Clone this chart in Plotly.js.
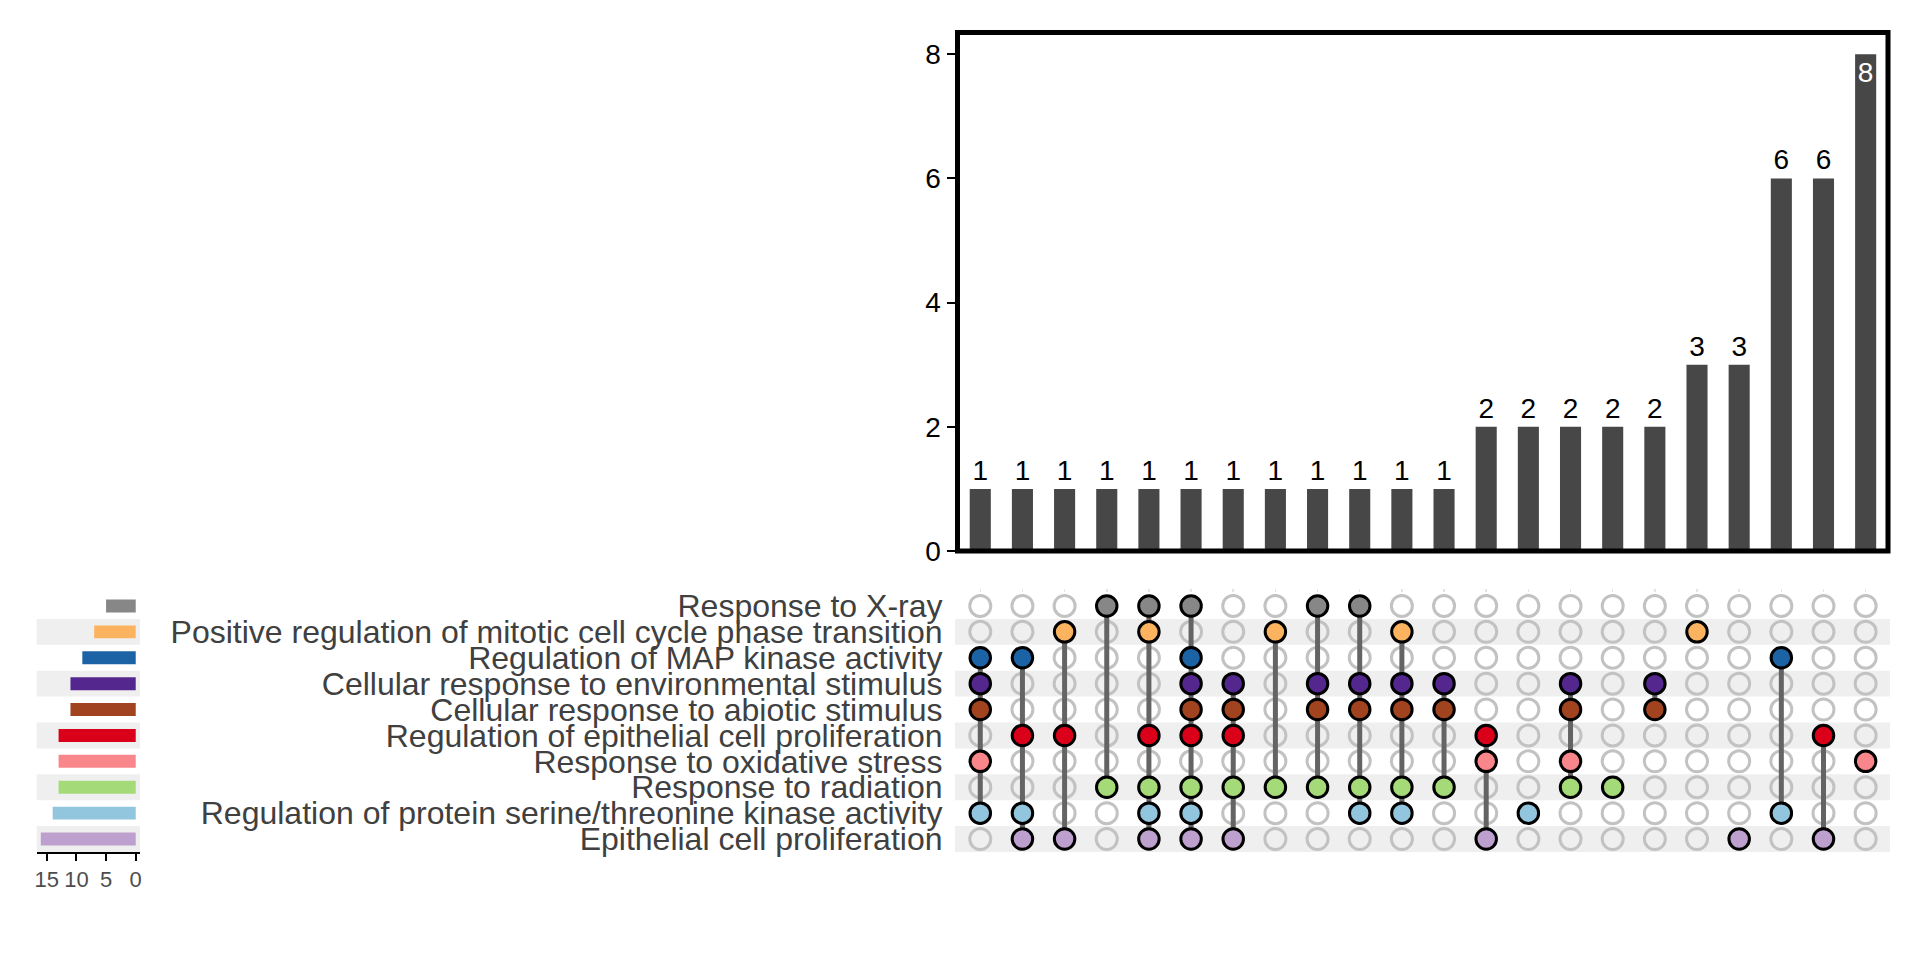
<!DOCTYPE html>
<html>
<head>
<meta charset="utf-8">
<script src="https://cdn.plot.ly/plotly-3.0.1.min.js"></script>
<style>
  html, body { margin: 0; padding: 0; background: #ffffff; }
  #chart { width: 1920px; height: 960px; }
</style>
</head>
<body>
<div id="chart"></div>
<script>
// ---------- data ----------
const setNames = [
  "Response to X-ray",
  "Positive regulation of mitotic cell cycle phase transition",
  "Regulation of MAP kinase activity",
  "Cellular response to environmental stimulus",
  "Cellular response to abiotic stimulus",
  "Regulation of epithelial cell proliferation",
  "Response to oxidative stress",
  "Response to radiation",
  "Regulation of protein serine/threonine kinase activity",
  "Epithelial cell proliferation"
];
const setColors = [
  "#878787", "#FBB35F", "#1C63A6", "#54278F", "#A1431F",
  "#DA0019", "#F8868A", "#A4DA77", "#92C5DE", "#BEA0CE"
];
const setSizes = [5, 7, 9, 11, 11, 13, 13, 13, 14, 16];

const intersectionCounts = [1, 1, 1, 1, 1, 1, 1, 1, 1, 1, 1, 1, 2, 2, 2, 2, 2, 3, 3, 6, 6, 8];
// members of each intersection (indices into setNames)
const intersectionMembers = [
  [2, 3, 4, 6, 8],
  [2, 5, 8, 9],
  [1, 5, 9],
  [0, 7],
  [0, 1, 5, 7, 8, 9],
  [0, 2, 3, 4, 5, 7, 8, 9],
  [3, 4, 5, 7, 9],
  [1, 7],
  [0, 3, 4, 7],
  [0, 3, 4, 7, 8],
  [1, 3, 4, 7, 8],
  [3, 4, 7],
  [5, 6, 9],
  [8],
  [3, 4, 6, 7],
  [7],
  [3, 4],
  [1],
  [9],
  [2, 8],
  [5, 9],
  [6]
];
const barTickVals = [0, 2, 4, 6, 8];
const sizeTickVals = [0, 5, 10, 15];

// ---------- layout geometry (pixels -> paper) ----------
const W = 1920, H = 960;
const px = v => v / W;
const py = v => 1 - v / H;

const mainX = [px(957.5), px(1888)];
const barY = [py(551), py(32.5)];
const matY = [py(852), py(593)];
const sizeX = [px(36.7), px(140)];

const nCols = intersectionCounts.length;
const nRows = setNames.length;
const colIdx = intersectionCounts.map((_, i) => i);

// ---------- traces ----------
const barTrace = {
  type: "bar", x: colIdx, y: intersectionCounts,
  xaxis: "x", yaxis: "y",
  marker: { color: "#474747" },
  width: 0.5,
  text: intersectionCounts.map(String),
  textposition: intersectionCounts.map((v, i) => i === nCols - 1 ? "inside" : "outside"),
  insidetextanchor: "end",
  textangle: 0,
  constraintext: "none",
  cliponaxis: false,
  outsidetextfont: { family: "Liberation Sans, Arial, sans-serif", size: 28, color: "#000000" },
  insidetextfont: { family: "Liberation Sans, Arial, sans-serif", size: 28, color: "#ffffff" },
  hoverinfo: "skip"
};

const emptyX = [], emptyY = [], fillX = [], fillY = [], fillC = [];
const lineX = [], lineY = [];
intersectionMembers.forEach((mem, c) => {
  for (let r = 0; r < nRows; r++) {
    if (mem.includes(r)) { fillX.push(c); fillY.push(r); fillC.push(setColors[r]); }
    else { emptyX.push(c); emptyY.push(r); }
  }
  if (mem.length > 1) {
    lineX.push(c, c, null);
    lineY.push(Math.min(...mem), Math.max(...mem), null);
  }
});

const emptyTrace = {
  type: "scatter", mode: "markers", x: emptyX, y: emptyY,
  xaxis: "x2", yaxis: "y2",
  marker: { size: 21, color: "rgba(0,0,0,0)", line: { color: "#C2C2C2", width: 3 } },
  hoverinfo: "skip"
};
const lineTrace = {
  type: "scatter", mode: "lines", x: lineX, y: lineY,
  xaxis: "x2", yaxis: "y2",
  line: { color: "#646464", width: 5 },
  connectgaps: false,
  hoverinfo: "skip"
};
const fillTrace = {
  type: "scatter", mode: "markers", x: fillX, y: fillY,
  xaxis: "x2", yaxis: "y2",
  marker: { size: 20.5, color: fillC, line: { color: "#000000", width: 3 } },
  hoverinfo: "skip"
};

const sizeTrace = {
  type: "bar", orientation: "h", x: setSizes, y: setNames.map((_, i) => i),
  xaxis: "x3", yaxis: "y3",
  marker: { color: setColors },
  width: 0.5,
  hoverinfo: "skip"
};

// ---------- shapes ----------
const shapes = [];
for (let r = 0; r < nRows; r++) {
  if (r % 2 === 1) {
    shapes.push({ type: "rect", layer: "below", xref: "paper", yref: "y2",
      x0: px(955), x1: px(1890), y0: r - 0.5, y1: r + 0.5,
      fillcolor: "#EFEFEF", line: { width: 0 } });
    shapes.push({ type: "rect", layer: "below", xref: "paper", yref: "y3",
      x0: sizeX[0], x1: sizeX[1], y0: r - 0.5, y1: r + 0.5,
      fillcolor: "#EFEFEF", line: { width: 0 } });
  }
}
shapes.push({ type: "rect", layer: "above", xref: "paper", yref: "paper",
  x0: mainX[0], x1: mainX[1], y0: barY[0], y1: barY[1],
  fillcolor: "rgba(0,0,0,0)", line: { color: "#000000", width: 5 } });

const font = "Liberation Sans, Arial, sans-serif";

const layout = {
  width: W, height: H,
  margin: { l: 0, r: 0, t: 0, b: 0 },
  paper_bgcolor: "#ffffff", plot_bgcolor: "rgba(0,0,0,0)",
  showlegend: false,
  font: { family: font },
  shapes: shapes,
  xaxis: {
    domain: mainX, anchor: "y", range: [-0.54, 21.53],
    showgrid: false, zeroline: false, showline: false, showticklabels: false, ticks: ""
  },
  yaxis: {
    domain: barY, anchor: "x", range: [0, 8.35],
    showgrid: false, zeroline: false, showline: false,
    tickvals: barTickVals, ticks: "outside", ticklen: 10, tickwidth: 2, tickcolor: "#000000",
    tickfont: { family: font, size: 28, color: "#000000" }
  },
  xaxis2: {
    domain: mainX, anchor: "y2", range: [-0.54, 21.53], side: "top",
    showgrid: false, zeroline: false, showline: false, showticklabels: false,
    tickvals: colIdx, ticks: "outside", ticklen: 3, tickwidth: 1.5, tickcolor: "#E4E4E4"
  },
  yaxis2: {
    domain: matY, anchor: "x2", range: [nRows - 0.5, -0.5],
    showgrid: false, zeroline: false, showline: false,
    tickvals: setNames.map((_, i) => i), ticktext: setNames, ticks: "",
    ticklabelstandoff: 14,
    tickfont: { family: font, size: 32, color: "#404040" }
  },
  xaxis3: {
    domain: sizeX, anchor: "y3", range: [16.69, -0.72],
    showgrid: false, zeroline: false,
    showline: true, linecolor: "#000000", linewidth: 2,
    tickvals: sizeTickVals, ticks: "outside", ticklen: 7, tickwidth: 2, tickcolor: "#000000",
    tickfont: { family: font, size: 22, color: "#4D4D4D" }
  },
  xaxis4: {
    domain: sizeX, anchor: "y3", overlaying: "x3", side: "top", range: [16.69, -0.72],
    showgrid: false, zeroline: false, showline: false, showticklabels: false,
    tickvals: [0, 2.5, 5, 7.5, 10, 12.5, 15], ticks: "outside", ticklen: 3, tickwidth: 1.5, tickcolor: "#E4E4E4"
  },
  yaxis3: {
    domain: matY, anchor: "x3", range: [nRows - 0.5, -0.5],
    showgrid: false, zeroline: false, showline: false, showticklabels: false, ticks: ""
  }
};

Plotly.newPlot("chart", [barTrace, emptyTrace, lineTrace, fillTrace, sizeTrace], layout, { staticPlot: true });
</script>
</body>
</html>
